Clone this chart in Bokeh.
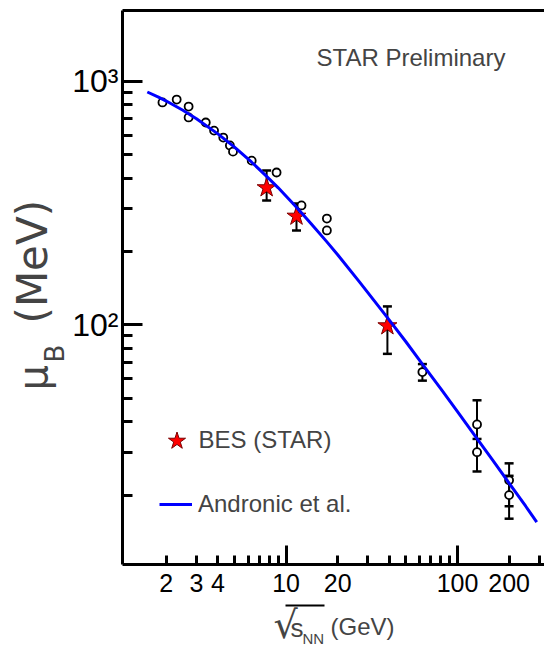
import math
from bokeh.plotting import figure
from bokeh.models import (LogAxis, FixedTicker, Range1d, Label, Legend, LegendItem,
                          Whisker, TeeHead, ColumnDataSource, BoxAnnotation)
from bokeh.embed import file_html
from bokeh.resources import INLINE

# ---------------- data ----------------
# other experiments (SIS/AGS/SPS/RHIC), open circles
other_sqrt_s = [1.9, 2.3, 2.7, 2.7, 3.4, 3.8, 4.3, 4.7, 4.9, 6.3, 8.8, 12.3, 17.3, 17.3, 62.4, 130, 130, 200, 200]
other_mu     = [818, 841, 787, 710, 677, 627, 587, 545, 514, 472, 422, 309, 273, 244, 64, 39, 30, 23, 20]
# error bars visible on some of them
err_sqrt_s = [62.4, 130, 130, 200, 200]
err_lo     = [59, 30, 25, 18, 16]
err_hi     = [69, 49, 34, 27, 24]
# BES (STAR) stars
bes_sqrt_s = [7.7, 11.5, 39]
bes_mu     = [365, 279, 99]
bes_lo     = [324, 244, 76]
bes_hi     = [430, 315, 119]
# Andronic et al. curve
andronic_sqrt_s = [1.55, 1.8, 2, 2.5, 3, 4, 5, 6.3, 7.7, 9, 11.5, 14, 17.3, 20, 27, 39, 50,
                   62.4, 80, 100, 130, 160, 200, 250, 290]
andronic_mu = [903, 860, 829, 760, 701, 608, 536, 465, 407, 365, 304, 260, 219, 194, 149, 107, 85.2,
               69, 54.6, 44, 34.1, 27.9, 22.4, 18.0, 15.5]

x_major_labeled = [2, 3, 4, 10, 20, 100, 200]
x_minor = [5, 6, 7, 8, 9, 30, 40, 50, 60, 70, 80, 90, 300]
x_long = [10, 100]
y_major = [100, 1000]
y_minor = [20, 30, 40, 50, 60, 70, 80, 90, 200, 300, 400, 500, 600, 700, 800, 900]
y_labels = {100: "10\u00b2", 1000: "10\u00b3"}

# axis ranges of the chart box, and of the whole canvas
X0, X1 = 1.1104, 321.8
Y0, Y1 = 10.37, 1951
XC0, YC0, YC1 = 0.2157, 4.691, 2144.6

SANS = "Liberation Sans"

p = figure(width=544, height=648, x_axis_type="log", y_axis_type="log",
           x_range=Range1d(XC0, X1), y_range=Range1d(YC0, YC1),
           x_axis_location=None, y_axis_location=None,
           output_backend="svg", toolbar_location=None,
           min_border_left=0, min_border_right=0, min_border_top=0, min_border_bottom=0)
p.outline_line_color = None
p.grid.visible = False
p.background_fill_color = "white"
p.border_fill_color = "white"

def style_axis(ax):
    ax.axis_line_width = 3
    ax.axis_line_color = "black"
    ax.major_tick_line_width = 3
    ax.minor_tick_line_width = 3
    ax.major_tick_out = 0
    ax.minor_tick_out = 0

# bottom: long ticks at decades
ax_long = LogAxis(ticker=FixedTicker(ticks=x_long, minor_ticks=[]), fixed_location=Y0, bounds=(X0, X1))
style_axis(ax_long)
ax_long.major_tick_in = 19
ax_long.minor_tick_in = 0
ax_long.major_label_text_font_size = "1px"
ax_long.major_label_text_alpha = 0
p.add_layout(ax_long, "below")

# bottom: labelled short ticks
ax_x = LogAxis(ticker=FixedTicker(ticks=x_major_labeled, minor_ticks=x_minor), fixed_location=Y0, bounds=(X0, X1))
style_axis(ax_x)
ax_x.axis_line_color = None
ax_x.major_tick_in = 9
ax_x.minor_tick_in = 9
ax_x.major_label_overrides = {v: str(v) for v in x_major_labeled}
ax_x.major_label_text_font = SANS
ax_x.major_label_text_font_size = "25px"
ax_x.major_label_text_color = "black"
ax_x.major_label_standoff = 9
p.add_layout(ax_x, "below")

# left axis
ax_y = LogAxis(ticker=FixedTicker(ticks=y_major, minor_ticks=y_minor), fixed_location=X0, bounds=(Y0, Y1))
style_axis(ax_y)
ax_y.major_tick_in = 20
ax_y.minor_tick_in = 10
ax_y.major_label_overrides = y_labels
ax_y.major_label_text_font = SANS
ax_y.major_label_text_font_size = "32px"
ax_y.major_label_text_color = "black"
ax_y.major_label_standoff = 4
p.add_layout(ax_y, "left")

# top frame line
ax_top = LogAxis(ticker=FixedTicker(ticks=x_long, minor_ticks=[]), fixed_location=Y1, bounds=(X0, X1))
style_axis(ax_top)
ax_top.major_tick_in = 0
ax_top.major_tick_line_color = None
ax_top.major_label_text_font_size = "1px"
ax_top.major_label_text_alpha = 0
p.add_layout(ax_top, "above")

# ---------------- glyphs ----------------
src_other = ColumnDataSource(dict(x=other_sqrt_s, y=other_mu))
src_err = ColumnDataSource(dict(x=err_sqrt_s, lo=err_lo, hi=err_hi))
src_bes = ColumnDataSource(dict(x=bes_sqrt_s, y=bes_mu, lo=bes_lo, hi=bes_hi))

p.scatter("x", "y", source=src_other, marker="circle", size=8, fill_color="white",
          line_color="black", line_width=1.8)

for src in (src_err, src_bes):
    p.add_layout(Whisker(source=src, base="x", lower="lo", upper="hi", line_color="black", line_width=2,
                         upper_head=TeeHead(size=9, line_width=2.5, line_color="black"),
                         lower_head=TeeHead(size=9, line_width=2.5, line_color="black")))

star_r = p.scatter("x", "y", source=src_bes, marker="star", size=20, fill_color="#ff0000",
                   line_color="#7a0000", line_width=1)

line_r = p.line(andronic_sqrt_s, andronic_mu, line_color="#0000ff", line_width=3)

# ---------------- legends ----------------
leg1 = Legend(items=[LegendItem(label="BES (STAR)", renderers=[star_r])], location=(153.5, 185.5),
              glyph_width=45, glyph_height=45, label_standoff=0, padding=0, margin=0,
              border_line_color=None, background_fill_alpha=0,
              label_text_font=SANS, label_text_font_size="24px")
leg2 = Legend(items=[LegendItem(label="Andronic et al.", renderers=[line_r])], location=(159, 130.5),
              glyph_width=33, glyph_height=20, label_standoff=6, padding=0, margin=0,
              border_line_color=None, background_fill_alpha=0,
              label_text_font=SANS, label_text_font_size="24px")
p.add_layout(leg1)
p.add_layout(leg2)

# ---------------- texts ----------------
p.add_layout(Label(x=316, y=591, x_units="screen", y_units="screen", text="STAR Preliminary",
                   text_font=SANS, text_font_size="24px", text_baseline="alphabetic"))

# y axis title: mu_B (MeV), rotated
rot = math.pi / 2
p.add_layout(Label(x=32, y=258, x_units="screen", y_units="screen", text="\u03bc", angle=rot,
                   text_font="DejaVu Sans", text_font_size="40px", text_baseline="alphabetic"))
p.add_layout(Label(x=54, y=286, x_units="screen", y_units="screen", text="B", angle=rot,
                   text_font="DejaVu Sans", text_font_size="26px", text_baseline="alphabetic"))
p.add_layout(Label(x=32, y=325, x_units="screen", y_units="screen", text="(MeV)", angle=rot,
                   text_font="DejaVu Sans", text_font_size="42px", text_baseline="alphabetic"))

# x axis title: sqrt(s_NN) (GeV)
p.add_layout(Label(x=273, y=24, x_units="screen", y_units="screen", text="\u221a",
                   text_font="DejaVu Sans", text_font_size="38px", text_baseline="alphabetic"))
p.add_layout(BoxAnnotation(left=285, right=324, top=44, bottom=42,
                           left_units="screen", right_units="screen", top_units="screen", bottom_units="screen",
                           fill_color="black", fill_alpha=1, line_color=None))
p.add_layout(Label(x=290, y=21, x_units="screen", y_units="screen", text="s",
                   text_font=SANS, text_font_size="26px", text_baseline="alphabetic"))
p.add_layout(Label(x=302, y=10, x_units="screen", y_units="screen", text="NN",
                   text_font=SANS, text_font_size="15px", text_baseline="alphabetic"))
p.add_layout(Label(x=330, y=22, x_units="screen", y_units="screen", text="(GeV)",
                   text_font=SANS, text_font_size="24px", text_baseline="alphabetic"))

open("out.html", "w").write(file_html(p, INLINE))
